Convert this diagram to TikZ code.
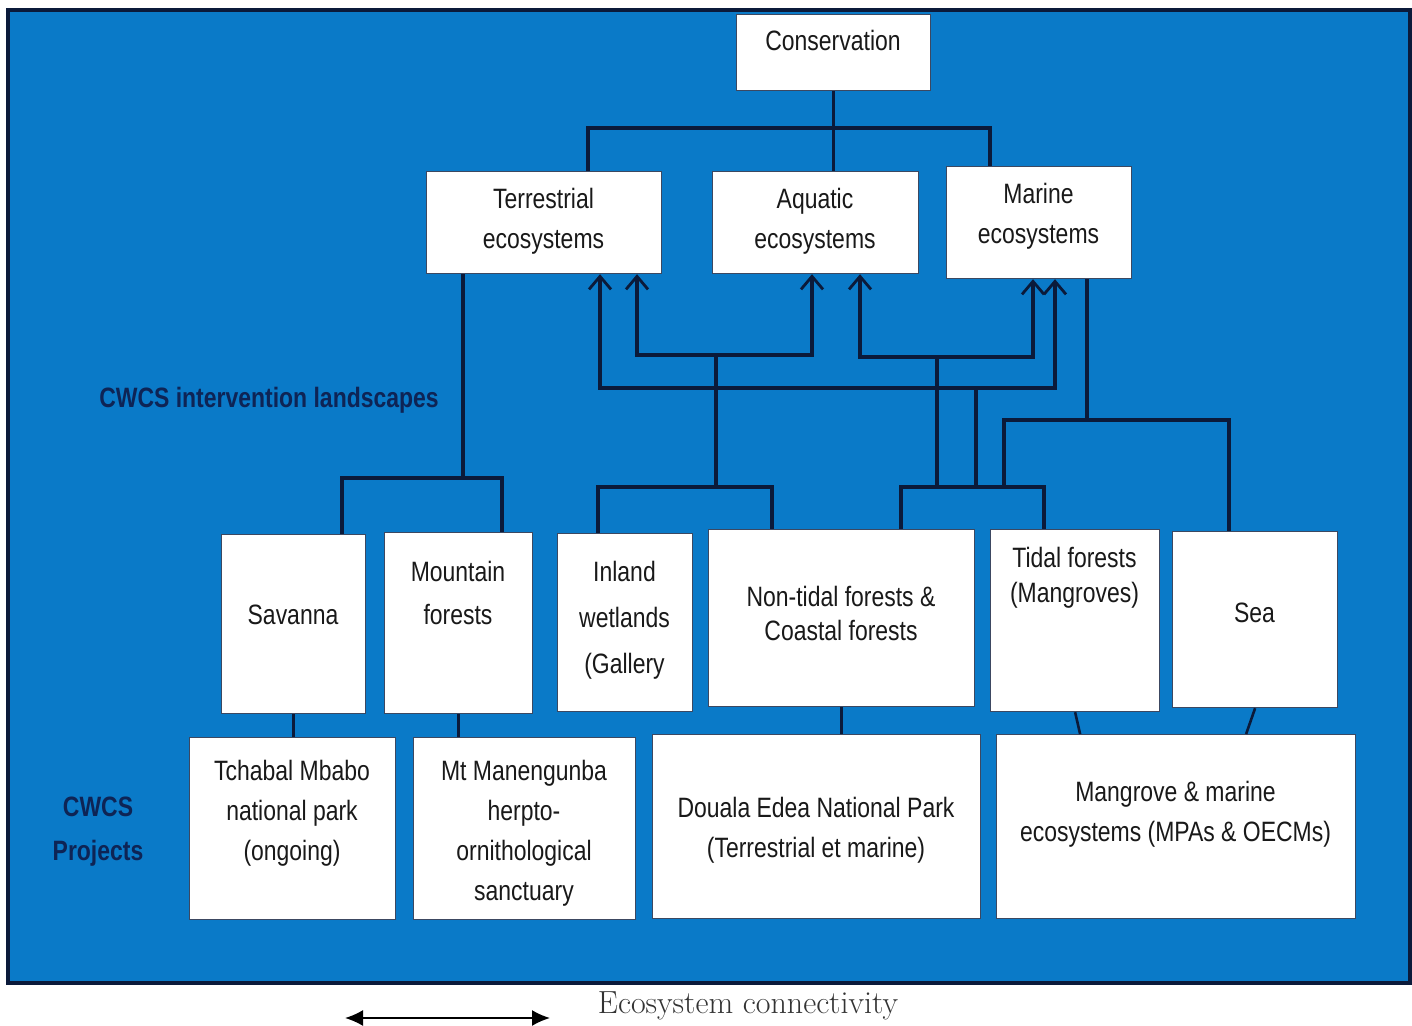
\documentclass[tikz,border=0pt]{standalone}
\usepackage{fontspec}
\usepackage{tikz}
\usetikzlibrary{arrows.meta}
\newfontfamily\boxfont{Liberation Sans}[FakeStretch=0.82]
\newfontfamily\legendfont{Latin Modern Roman}
\definecolor{cwcsblue}{HTML}{0A7AC8}
\definecolor{linknavy}{HTML}{0B1A3A}
\definecolor{labelnavy}{HTML}{0E2455}
\newcommand{\ecobox}[7]{%
  \node[eco box,minimum width={(#4-#2)*1pt},minimum height={(#5-#3)*1pt},anchor=north west] (#1) at (#2,#3) {};
  \node[box text] at ({(#2+#4)/2},#6) {#7};}

\begin{document}
\begin{tikzpicture}[x=1pt,y=-1pt,
  eco box/.style={draw=linknavy!80,line width=1.2pt,fill=white,inner sep=0pt},
  box text/.style={align=center,inner sep=0pt,text=black!90,font=\boxfont\fontsize{28}{40}\selectfont},
  link/.style={draw=linknavy,line width=3.6pt},
  short link/.style={draw=linknavy,line width=2.6pt},
  both tips/.style={link,{Straight Barb[length=13pt,width=22pt,line width=2.8pt]}-{Straight Barb[length=13pt,width=22pt,line width=2.8pt]}},
  side label/.style={align=center,text=labelnavy,font=\boxfont\bfseries\fontsize{28}{44}\selectfont}]
  \useasboundingbox (0,0) rectangle (1412,1025);
  \fill[white] (0,0) rectangle (1412,1025);
  \fill[cwcsblue] (8,10) rectangle (1410,983);
  \draw[linknavy,line width=3.5pt] (8,10) rectangle (1410,983);

  \ecobox{cons}{736}{14}{930}{90}{40}{Conservation}
  \ecobox{terr}{426}{171}{661}{273}{221}{Terrestrial\\ecosystems}
  \ecobox{aqua}{712}{171}{918}{273}{221}{Aquatic\\ecosystems}
  \ecobox{mari}{946}{166}{1131}{278}{216}{Marine\\ecosystems}
  \ecobox{sava}{221}{534}{365}{713}{615}{Savanna}
  \ecobox{moun}{384}{532}{532}{713}{593}{Mountain\\[3pt]forests}
  \ecobox{inla}{557}{533}{692}{711}{620}{Inland\\[6pt]wetlands\\[6pt](Gallery}
  \ecobox{nont}{708}{529}{974}{706}{613}{Non-tidal forests \&\\[-6pt]Coastal forests}
  \ecobox{tida}{990}{529}{1159}{711}{578}{Tidal forests\\[-5pt](Mangroves)}
  \ecobox{sea}{1172}{531}{1337}{707}{613}{Sea}
  \ecobox{tcha}{189}{737}{395}{919}{813}{Tchabal Mbabo\\national park\\(ongoing)}
  \ecobox{mtma}{413}{737}{635}{919}{833}{Mt Manengunba\\herpto-\\ornithological\\sanctuary}
  \ecobox{doua}{652}{734}{980}{918}{830}{Douala Edea National Park\\(Terrestrial et marine)}
  \ecobox{mang}{996}{734}{1355}{918}{814}{Mangrove \& marine\\ecosystems (MPAs \& OECMs)}

  \node[side label] (land) at (269,400) {CWCS intervention landscapes};
  \node[side label] (proj) at (98,832) {CWCS\\Projects};

  % conservation tree
  \coordinate (tl) at (588,128);
  \coordinate (tr) at (990,128);
  \draw[link] (cons.south) -- (cons.south |- aqua.north);
  \draw[link] (terr.north -| tl) -- (tl) -- (tr) -- (mari.north -| tr);

  % landscapes up to ecosystems
  \coordinate (sl) at (342,478);
  \coordinate (sm) at (463,478);
  \coordinate (sr) at (502,478);
  \draw[link] (terr.south -| sm) -- (sm);
  \draw[link] (sava.north -| sl) |- (sr) -- (moun.north -| sr);

  \coordinate (wl) at (598,487);
  \coordinate (wm) at (716,487);
  \coordinate (wr) at (772,487);
  \coordinate (a1) at (637,355);
  \coordinate (a2) at (812,355);
  \draw[link] (inla.north -| wl) |- (wr) -- (nont.north -| wr);
  \draw[link] (wm) -- (wm |- a1);
  \draw[both tips] (terr.south -| a1) -- (a1) -- (a2) -- (aqua.south -| a2);

  \coordinate (b1) at (600,388);
  \coordinate (b2) at (1055,388);
  \draw[both tips] (terr.south -| b1) -- (b1) -- (b2) -- (mari.south -| b2);

  \coordinate (c1) at (860,357);
  \coordinate (c2) at (1033,357);
  \draw[both tips] (aqua.south -| c1) -- (c1) -- (c2) -- (mari.south -| c2);

  \coordinate (dl) at (901,487);
  \coordinate (dr) at (1044,487);
  \coordinate (dm1) at (937,487);
  \coordinate (dm2) at (976,487);
  \coordinate (dm3) at (1004,487);
  \coordinate (em) at (1087,420);
  \coordinate (er) at (1229,420);
  \draw[link] (nont.north -| dl) |- (dr) -- (tida.north -| dr);
  \draw[link] (dm1) -- (dm1 |- c1);
  \draw[link] (dm2) -- (dm2 |- b1);
  \draw[link] (dm3) |- (er) -- (sea.north -| er);
  \draw[link] (mari.south -| em) -- (em);

  % landscapes down to projects
  \draw[short link] (sava.south) -- (sava.south |- tcha.north);
  \draw[short link] (moun.south) -- (moun.south |- mtma.north);
  \draw[short link] (nont.south) -- (nont.south |- doua.north);
  \draw[short link] (tida.south) -- ([xshift=5pt]tida.south |- mang.north);
  \draw[short link] (sea.south) -- ([xshift=-9pt]sea.south |- mang.north);

  % legend
  \coordinate (la) at (345,1018);
  \coordinate (lb) at (550,1018);
  \draw[line width=1.8pt,{Latex[length=18pt,width=16pt]}-{Latex[length=18pt,width=16pt]}] (la) -- (lb);
  \node[text=black!80,font=\legendfont\fontsize{32}{34}\selectfont] (conn) at (748,1006) {Ecosystem connectivity};
\end{tikzpicture}
\end{document}
